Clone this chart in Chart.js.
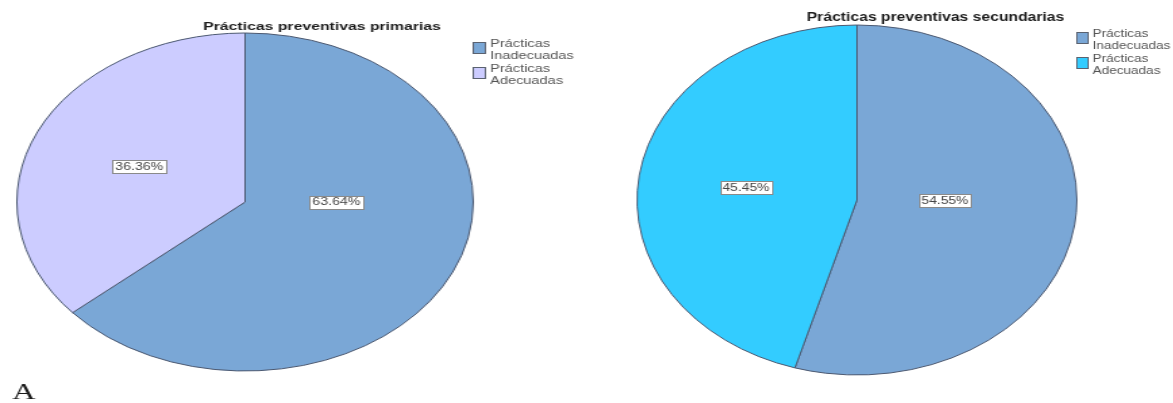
<!DOCTYPE html>
<html lang="es">
<head>
<meta charset="utf-8">
<title>Prácticas preventivas</title>
<script src="https://cdn.jsdelivr.net/npm/chart.js@4.4.1/dist/chart.umd.min.js"></script>
<style>
    html, body { margin: 0; padding: 0; background: #ffffff; }
    body { position: relative; width: 1173px; height: 403px; overflow: hidden; }
    canvas { position: absolute; top: 0; }
</style>
</head>
<body>
<!-- the canvases are drawn narrow and widened by their inline style, like the exported figure -->
<canvas id="primariasChart" width="434" height="403" style="left:0;width:586px;height:403px"></canvas>
<canvas id="secundariasChart" width="456" height="403" style="left:600px;width:573px;height:403px"></canvas>
<script>
const categoryLabels = [['Prácticas', 'Inadecuadas'], ['Prácticas', 'Adecuadas']];

const primariasTitle = 'Prácticas preventivas primarias';
const primariasValues = [63.64, 36.36];

const secundariasTitle = 'Prácticas preventivas secundarias';
const secundariasValues = [54.55, 45.45];

const panelLetter = 'A';

// title, legend, percentage boxes and panel letter
const panelDecor = {
    id: 'panelDecor',
    afterDatasetsDraw(chart, args, opts) {
        const ctx = chart.ctx;
        const dataset = chart.data.datasets[0];
        const meta = chart.getDatasetMeta(0);
        ctx.save();

        ctx.font = opts.valueFont;
        ctx.textAlign = 'center';
        ctx.textBaseline = 'middle';
        meta.data.forEach((arc, i) => {
            const { x, y, startAngle, endAngle, outerRadius } =
                arc.getProps(['x', 'y', 'startAngle', 'endAngle', 'outerRadius'], true);
            const mid = (startAngle + endAngle) / 2;
            let lx, ly;
            if (endAngle - startAngle > Math.PI) {
                // wide slices keep their label level with the centre
                lx = x + Math.sign(Math.cos(mid)) * 0.4 * outerRadius;
                ly = y;
            } else {
                lx = x + Math.cos(mid) * 0.51 * outerRadius;
                ly = y + Math.sin(mid) * 0.51 * outerRadius;
            }
            const text = dataset.data[i].toFixed(2) + '%';
            const w = Math.round(ctx.measureText(text).width + 4);
            const h = 13;
            const bx = Math.round(lx - w / 2) + 0.5;
            const by = Math.round(ly - h / 2) + 0.5;
            ctx.fillStyle = '#ffffff';
            ctx.fillRect(bx, by, w, h);
            ctx.strokeStyle = '#8a8a8a';
            ctx.lineWidth = 1;
            ctx.strokeRect(bx, by, w, h);
            ctx.fillStyle = '#444444';
            ctx.fillText(text, lx, ly + 0.5);
        });

        ctx.textAlign = 'center';
        ctx.textBaseline = 'alphabetic';
        ctx.font = opts.titleFont;
        ctx.fillStyle = '#1c1c1c';
        ctx.fillText(opts.title, opts.titleX, opts.titleY);

        ctx.textAlign = 'left';
        ctx.font = opts.legendFont;
        chart.data.labels.forEach((label, i) => {
            const top = opts.legendY + i * 25;
            ctx.fillStyle = dataset.backgroundColor[i];
            ctx.fillRect(opts.legendX + 0.5, top + 4.5, 9, 11);
            ctx.strokeStyle = '#5a6270';
            ctx.strokeRect(opts.legendX + 0.5, top + 4.5, 9, 11);
            ctx.fillStyle = '#555555';
            label.forEach((line, j) => {
                ctx.fillText(line, opts.legendX + 13, top + 9 + j * 11.5);
            });
        });

        if (opts.letter) {
            ctx.font = '24px "Liberation Serif", "Times New Roman", serif';
            ctx.fillStyle = '#1a1a1a';
            ctx.fillText(opts.letter, 9, 399);
        }
        ctx.restore();
    }
};

window.renderPracticasPie = (canvasId, values, colors, radius, padding, decor) => {
    try {
        const ctx = document.getElementById(canvasId)?.getContext('2d');
        if (!ctx) {
            console.error('Could not find ' + canvasId + ' canvas element');
            return null;
        }
        return new Chart(ctx, {
            type: 'pie',
            data: {
                labels: categoryLabels,
                datasets: [{
                    data: values,
                    backgroundColor: colors,
                    borderColor: '#4b5870',
                    borderWidth: 1,
                    radius: radius
                }]
            },
            options: {
                responsive: false,
                animation: false,
                events: [],
                layout: { padding: padding },
                plugins: {
                    legend: { display: false },
                    title: { display: false },
                    tooltip: { enabled: false },
                    panelDecor: decor
                }
            },
            plugins: [panelDecor]
        });
    } catch (error) {
        console.error('Error rendering pie chart:', error);
        return null;
    }
};

window.primariasPie = renderPracticasPie('primariasChart', primariasValues,
    ['#7aa7d6', '#ccccff'], 169,
    { left: 0, right: 71, top: 1, bottom: 0 },
    {
        title: primariasTitle,
        titleFont: 'bold 11.7px "Liberation Sans", Arial, sans-serif',
        titleX: 238.5, titleY: 30,
        legendFont: '10.8px "Liberation Sans", Arial, sans-serif',
        legendX: 350, legendY: 38,
        valueFont: '10.5px "Liberation Sans", Arial, sans-serif',
        letter: panelLetter
    });

window.secundariasPie = renderPracticasPie('secundariasChart', secundariasValues,
    ['#7aa7d6', '#33ccff'], 175,
    { left: 0, right: 47, top: 0, bottom: 3 },
    {
        title: secundariasTitle,
        titleFont: 'bold 12.5px "Liberation Sans", Arial, sans-serif',
        titleX: 267, titleY: 21,
        legendFont: '10.8px "Liberation Sans", Arial, sans-serif',
        legendX: 379, legendY: 28,
        valueFont: '11px "Liberation Sans", Arial, sans-serif',
        letter: null
    });
</script>
</body>
</html>
